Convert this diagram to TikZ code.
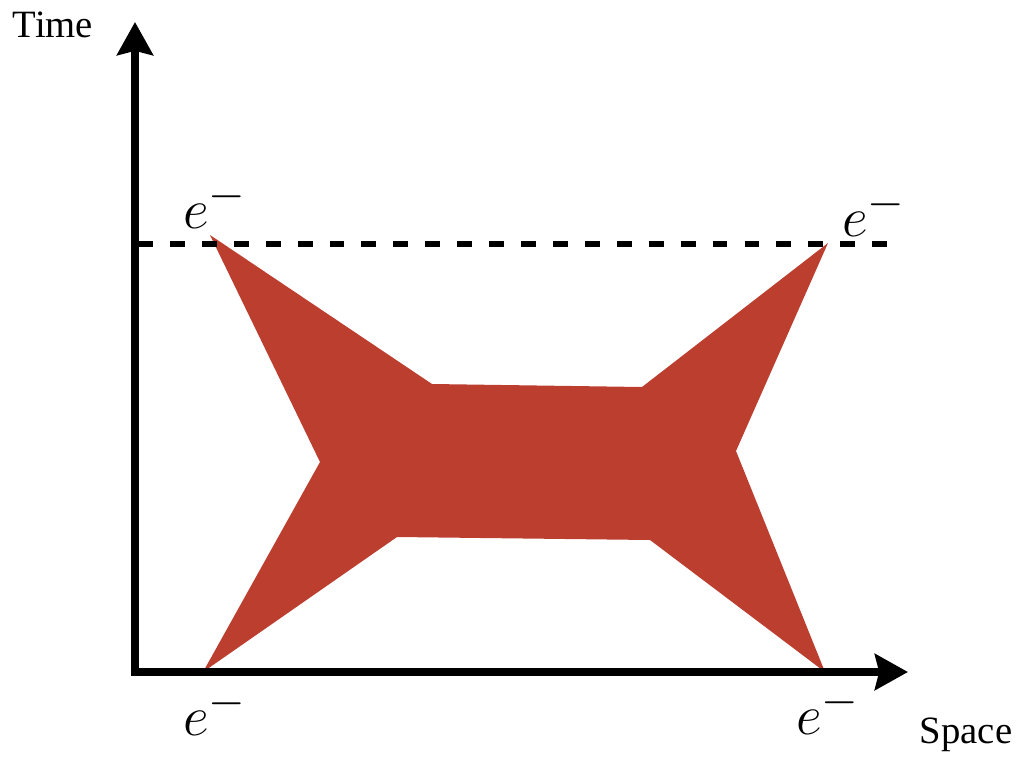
\documentclass[tikz,border=0pt]{standalone}
\usepackage{fontspec}
\setmainfont{Liberation Serif}
\usetikzlibrary{arrows.meta}
\definecolor{blobred}{RGB}{188,62,47}

\begin{document}
\begin{tikzpicture}[x=0.025cm, y=-0.025cm, >={Stealth[length=23.5pt, width=25.5pt, inset=3pt]},
    axislabel/.style={font=\fontsize{27.5}{33}\selectfont},
    particle/.style={font=\Huge, scale=1.61, inner sep=0pt}]
            \useasboundingbox (0,0) rectangle (1019,763);

            % Corners of the shaded region
            \coordinate (tl) at (210,235);
            \coordinate (tin1) at (432,384);
            \coordinate (tin2) at (642,387);
            \coordinate (tr) at (828,243);
            \coordinate (rin) at (736,451);
            \coordinate (br) at (825,672);
            \coordinate (bin2) at (650,540);
            \coordinate (bin1) at (397,537);
            \coordinate (bl) at (203,672);
            \coordinate (lin) at (320,462);

            % Shaded region
            \fill[blobred] (tl) -- (tin1) -- (tin2) -- (tr) -- (rin) -- (br)
                -- (bin2) -- (bin1) -- (bl) -- (lin) -- cycle;

            % Axes
            \coordinate (O) at (135,672);
            \coordinate (tmax) at (135,22);
            \coordinate (xmax) at (908,672);
            \draw[<->, line width=5pt, line join=miter] (tmax) -- (O) -- (xmax);
            \node[axislabel] (tlabel) at (53,25) {Time};
            \node[axislabel, anchor=base] (xlabel) at (966,743) {Space};

            % Dashed line
            \coordinate (dl) at (138,244);
            \coordinate (dr) at (890,244);
            \draw[line width=4.3pt, dash pattern=on 10.6pt off 12.1pt] (dl) -- (dr);

            % Labels
            \node[particle] (etl) at (215,205) {$e^-$};
            \node[particle] (etr) at (874,213) {$e^-$};
            \node[particle] (ebl) at (215,712) {$e^-$};
            \node[particle] (ebr) at (828,711) {$e^-$};
        \end{tikzpicture}
\end{document}
